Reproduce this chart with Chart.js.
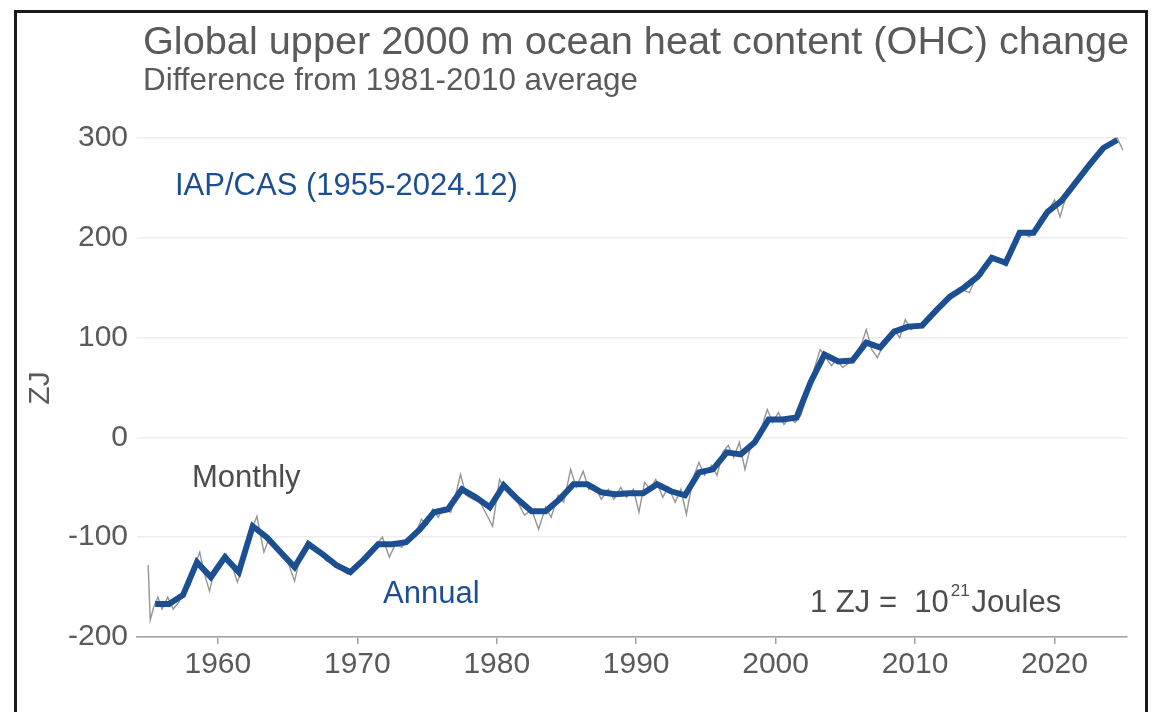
<!DOCTYPE html>
<html>
<head>
<meta charset="utf-8">
<script src="https://cdn.jsdelivr.net/npm/chart.js@4.4.1/dist/chart.umd.min.js"></script>
<style>
  body { margin: 0; background: #fff; overflow: hidden; }
  #frame { position: absolute; left: 14px; top: 10px; width: 1128px; height: 720px; border: 3px solid #1a1a1a; }
  #ohc { position: absolute; left: 0; top: 0; }
</style>
</head>
<body>
<div id="frame"></div>
<canvas id="ohc" width="1159" height="712"></canvas>
<script>
// annual means, ZJ relative to 1981-2010
var years = [];
for (var y = 1955; y <= 2024; y++) years.push(y);
var annualOHC = [
  -167, -167, -158, -125, -140, -120, -135, -89, -100, -115,
  -130, -107, -117, -128, -135, -122, -107, -107, -105, -92,
  -75, -72, -52, -60, -70, -48, -62, -74, -74, -62,
  -47, -47, -55, -57, -56, -56, -47, -54, -58, -35,
  -32, -15, -17, -5, 18, 18, 20, 55, 83, 76,
  77, 95, 90, 106, 111, 112, 127, 141, 150, 161,
  180, 175, 205, 205, 226, 237, 255, 273, 290, 298
];

// monthly series (decimal year / ZJ)
var monthlyTime = [
  1955.0, 1955.15, 1955.4, 1955.7, 1956.0, 1956.4, 1956.8, 1957.2, 1957.6, 1958.0,
  1958.3, 1958.7, 1959.0, 1959.4, 1959.8, 1960.2, 1960.6, 1961.0, 1961.4, 1961.8,
  1962.2, 1962.8, 1963.3, 1963.7, 1964.2, 1964.7, 1965.1, 1965.5, 1965.9, 1966.4,
  1966.8, 1967.3, 1967.8, 1968.3, 1968.8, 1969.3, 1969.8, 1970.3, 1970.8, 1971.3,
  1971.8, 1972.3, 1972.7, 1973.2, 1973.7, 1974.2, 1974.6, 1975.0, 1975.4, 1975.8,
  1976.2, 1976.7, 1977.1, 1977.4, 1977.8, 1978.3, 1978.8, 1979.3, 1979.7, 1980.2,
  1980.6, 1981.0, 1981.5, 1982.0, 1982.5, 1983.0, 1983.5, 1983.9, 1984.4, 1984.8,
  1985.3, 1985.7, 1986.2, 1986.6, 1987.0, 1987.5, 1988.0, 1988.4, 1988.9, 1989.3,
  1989.8, 1990.2, 1990.6, 1991.0, 1991.4, 1991.9, 1992.3, 1992.8, 1993.2, 1993.6,
  1994.1, 1994.5, 1994.9, 1995.4, 1995.8, 1996.2, 1996.6, 1997.0, 1997.4, 1997.8,
  1998.2, 1998.6, 1999.0, 1999.4, 1999.8, 2000.2, 2000.6, 2001.0, 2001.4, 2001.8,
  2002.3, 2002.8, 2003.2, 2003.6, 2004.0, 2004.4, 2004.8, 2005.3, 2005.7, 2006.2,
  2006.5, 2006.9, 2007.3, 2007.7, 2008.2, 2008.5, 2008.9, 2009.3, 2009.7, 2010.1,
  2010.6, 2011.0, 2011.5, 2012.0, 2012.5, 2012.9, 2013.4, 2013.9, 2014.3, 2014.8,
  2015.2, 2015.6, 2016.0, 2016.5, 2016.9, 2017.3, 2017.7, 2018.2, 2018.6, 2019.0,
  2019.5, 2020.0, 2020.4, 2020.8, 2021.2, 2021.6, 2022.0, 2022.5, 2022.9, 2023.4,
  2023.8, 2024.2, 2024.5, 2024.9
];
var monthlyOHC = [
  -128, -183, -170, -160, -172, -160, -172, -165, -152, -148,
  -130, -115, -135, -154, -130, -130, -117, -128, -145, -128,
  -100, -79, -115, -100, -112, -120, -128, -144, -120, -105,
  -112, -115, -124, -125, -132, -137, -130, -122, -115, -108,
  -100, -120, -108, -110, -100, -95, -82, -88, -72, -80,
  -70, -75, -55, -37, -58, -62, -65, -78, -89, -42,
  -52, -58, -65, -78, -72, -92, -70, -80, -58, -65,
  -32, -50, -34, -52, -48, -62, -52, -62, -50, -60,
  -52, -75, -45, -52, -42, -60, -50, -65, -52, -77,
  -40, -25, -38, -28, -38, -15, -8, -20, -5, -32,
  -10, 0, 10, 28, 15, 25, 13, 20, 15, 22,
  45, 70, 88, 80, 72, 78, 70, 75, 80, 95,
  108, 88, 80, 92, 100, 108, 100, 118, 108, 112,
  110, 118, 125, 132, 138, 145, 148, 145, 158, 162,
  175, 182, 178, 172, 185, 202, 205, 201, 210, 220,
  225, 238, 221, 240, 246, 258, 262, 272, 278, 285,
  292, 298, 300, 288
];

var yTicks = [-200, -100, 0, 100, 200, 300];
var xTicks = [1960, 1970, 1980, 1990, 2000, 2010, 2020];

var FONT = "'Liberation Sans', Arial, sans-serif";
var GREY_TXT = "#5a5a5a";
var BLUE = "#1c4f92";

var textPlugin = {
  id: "ohcText",
  afterDraw: function (chart) {
    var ctx = chart.ctx;
    ctx.save();
    ctx.textBaseline = "alphabetic";
    ctx.textAlign = "left";

    ctx.fillStyle = GREY_TXT;
    ctx.font = "39.7px " + FONT;
    ctx.fillText("Global upper 2000 m ocean heat content (OHC) change", 143, 54);
    ctx.font = "31.4px " + FONT;
    ctx.fillText("Difference from 1981-2010 average", 143, 90);

    ctx.fillStyle = BLUE;
    ctx.font = "31px " + FONT;
    ctx.fillText("IAP/CAS (1955-2024.12)", 175, 195);
    ctx.fillText("Annual", 383, 603);

    ctx.fillStyle = "#4d4d4d";
    ctx.fillText("Monthly", 192, 487);

    ctx.font = "31px " + FONT;
    ctx.fillText("1 ZJ =  10", 810, 612);
    var w = ctx.measureText("1 ZJ =  10").width;
    ctx.font = "17px " + FONT;
    ctx.fillText("21", 810 + w + 2, 596);
    var w2 = ctx.measureText("21").width;
    ctx.font = "31px " + FONT;
    ctx.fillText("Joules", 810 + w + w2 + 4, 612);

    // axis title
    ctx.fillStyle = GREY_TXT;
    ctx.font = "30px " + FONT;
    ctx.translate(49, 388);
    ctx.rotate(-Math.PI / 2);
    ctx.textAlign = "center";
    ctx.fillText("ZJ", 0, 0);
    ctx.restore();
  }
};

new Chart(document.getElementById("ohc").getContext("2d"), {
  type: "line",
  data: {
    datasets: [
      {
        label: "Annual",
        data: years.map(function (yr, i) { return { x: yr + 0.5, y: annualOHC[i] }; }),
        borderColor: BLUE,
        borderWidth: 6,
        pointRadius: 0,
        tension: 0,
        clip: false,
        order: 1
      },
      {
        label: "Monthly",
        data: monthlyTime.map(function (t, i) { return { x: t, y: monthlyOHC[i] }; }),
        borderColor: "#959595",
        borderWidth: 1.4,
        pointRadius: 0,
        tension: 0,
        clip: false,
        order: 2
      }
    ]
  },
  options: {
    responsive: false,
    animation: false,
    devicePixelRatio: 1,
    layout: { padding: { left: 0, right: 32, top: 138, bottom: 0 } },
    plugins: { legend: { display: false }, tooltip: { enabled: false }, title: { display: false } },
    scales: {
      x: {
        type: "linear",
        min: 1954.2,
        max: 2025.2,
        afterFit: function (s) { s.height = 75; },
        afterBuildTicks: function (s) { s.ticks = xTicks.map(function (v) { return { value: v }; }); },
        grid: { drawOnChartArea: false, drawTicks: true, tickLength: 7, color: "#a0a0a0", lineWidth: 1.5 },
        border: { display: true, color: "#a0a0a0", width: 1.5 },
        ticks: {
          color: GREY_TXT,
          font: { family: FONT, size: 30 },
          padding: 3,
          maxRotation: 0,
          callback: function (v) { return String(v); }
        }
      },
      y: {
        min: -200,
        max: 300,
        afterFit: function (s) { s.width = 137; },
        afterBuildTicks: function (s) { s.ticks = yTicks.map(function (v) { return { value: v }; }); },
        grid: { color: "#ededed", lineWidth: 1.5, drawTicks: false },
        border: { display: false },
        ticks: {
          color: GREY_TXT,
          font: { family: FONT, size: 30 },
          padding: 9,
          callback: function (v) { return String(v); }
        }
      }
    }
  },
  plugins: [textPlugin]
});
</script>
</body>
</html>
